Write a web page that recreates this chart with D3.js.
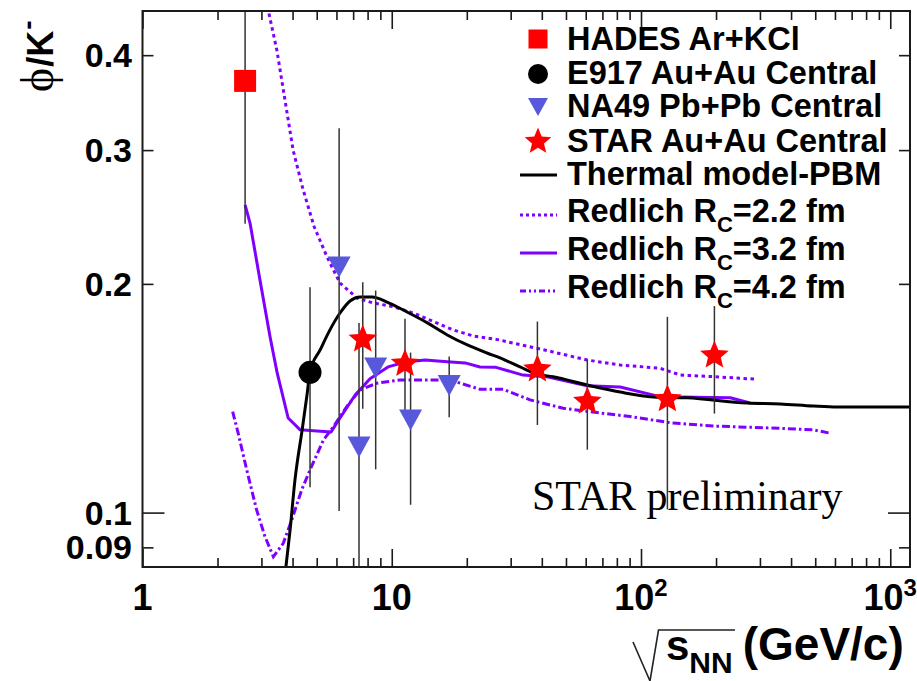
<!DOCTYPE html>
<html>
<head>
<meta charset="utf-8">
<script src="https://cdn.jsdelivr.net/npm/d3@7"></script>
<style>
  body { margin: 0; background: #fff; }
  svg { display: block; }
</style>
</head>
<body>
<svg id="chart" width="917" height="681"></svg>
<script>
// ---- Measurements: phi/K- ratio vs collision energy ----
const hadesX = [2.58];
const hadesY = [0.37];
const hadesErr = [0.13];

const e917X = [4.70];
const e917Y = [0.153];
const e917Err = [0.045];

const na49X = [6.15, 7.39, 8.62, 11.9, 17.0];
const na49Y = [0.2105, 0.122, 0.155, 0.1324, 0.147];
const na49Err = [0.110, 0.0556, 0.041, 0.030, 0.0135];

const starX = [7.65, 11.3, 38.4, 60.9, 127.6, 197];
const starY = [0.169, 0.157, 0.1544, 0.140, 0.141, 0.161];
const starErr = [0.032, 0.023, 0.024, 0.019, 0.040, 0.026];

// ---- Model curves ----
const thermalX = [3.73, 3.91, 4.09, 4.37, 4.57, 4.70, 5.16, 5.65, 6.20, 6.80, 7.46, 8.34, 9.57, 11.5, 13.9, 16.7, 20.1, 24.1, 27.2, 32.7, 38.3, 44.4, 60.8, 82.5, 112, 153, 267, 362, 491, 612, 1200];
const thermalY = [0.0828, 0.0949, 0.1104, 0.1285, 0.1428, 0.1533, 0.1637, 0.1740, 0.1831, 0.1899, 0.1922, 0.1922, 0.1893, 0.1837, 0.1777, 0.1713, 0.1662, 0.1622, 0.1598, 0.1555, 0.1522, 0.1509, 0.1472, 0.1441, 0.1420, 0.1416, 0.1394, 0.1390, 0.1381, 0.1377, 0.1377];

const redlich22X = [3.13, 3.46, 3.73, 4.02, 4.41, 4.88, 5.50, 6.20, 7.26, 8.41, 10.1, 12.2, 14.7, 17.6, 21.2, 27.2, 30.7, 42.0, 60.8, 82.5, 119, 144, 195, 292];
const redlich22Y = [0.473, 0.406, 0.349, 0.300, 0.266, 0.238, 0.217, 0.2005, 0.1916, 0.1888, 0.1867, 0.1831, 0.1784, 0.1740, 0.1708, 0.1687, 0.1671, 0.1634, 0.1588, 0.1564, 0.1549, 0.1517, 0.1510, 0.1498];

const redlich32X = [2.58, 2.70, 2.96, 3.25, 3.47, 3.84, 4.29, 5.01, 5.71, 6.20, 7.13, 8.18, 9.66, 11.3, 13.6, 16.7, 19.7, 22.6, 26.0, 33.6, 42.0, 60.8, 82.5, 119, 228, 274];
const redlich32Y = [0.2541, 0.2405, 0.2024, 0.1703, 0.1527, 0.1332, 0.1285, 0.1281, 0.1277, 0.1332, 0.1428, 0.1500, 0.1555, 0.1578, 0.1588, 0.1580, 0.1574, 0.1555, 0.1554, 0.1517, 0.1509, 0.1469, 0.1463, 0.1421, 0.1416, 0.1394];

const redlich42X = [2.30, 2.42, 2.62, 2.87, 3.10, 3.35, 3.67, 3.97, 4.35, 4.70, 5.32, 5.83, 6.60, 7.46, 8.71, 10.8, 13.9, 17.1, 22.6, 28.0, 35.9, 48.7, 66.6, 90.4, 131, 195, 362, 491, 574];
const redlich42Y = [0.1358, 0.1272, 0.1138, 0.1008, 0.0930, 0.0875, 0.0911, 0.0978, 0.1071, 0.1138, 0.1246, 0.1297, 0.1379, 0.1450, 0.1480, 0.1495, 0.1495, 0.1495, 0.1453, 0.1453, 0.1407, 0.1372, 0.1354, 0.1338, 0.1313, 0.1300, 0.1291, 0.1285, 0.1272];

// ---- Axis ticks and labels ----
const xMajorTicks = [1, 10, 100, 1000];
const xTickBase = ["1", "10", "10", "10"];
const xTickExp = ["", "", "2", "3"];
const yTicks = [0.09, 0.1, 0.2, 0.3, 0.4];
const yTickLabels = ["0.09", "0.1", "0.2", "0.3", "0.4"];
const yMajorTicks = [0.1];

const legendLabels = ["HADES Ar+KCl", "E917 Au+Au Central", "NA49 Pb+Pb Central", "STAR Au+Au Central",
  "Thermal model-PBM", "Redlich R_C=2.2 fm", "Redlich R_C=3.2 fm", "Redlich R_C=4.2 fm"];

// ---- Layout ----
const frame = { left: 142.5, right: 910, top: 11, bottom: 567 };
const RED = "#ff0000", BLUE = "#5858dc", VIOLET = "#7f00ff", INK = "#1a1a1a";
const SANS = "'Liberation Sans', Arial, Helvetica, sans-serif";
const SERIF = "'Liberation Serif', 'Times New Roman', serif";

const x = d3.scaleLog().domain([1, 1200]).range([frame.left, frame.right]);
const y = d3.scaleLog().domain([0.0848, 0.4573]).range([frame.bottom, frame.top]);

const svg = d3.select("#chart");
svg.append("rect").attr("width", 917).attr("height", 681).attr("fill", "#fff");

svg.append("defs").append("clipPath").attr("id", "plotArea")
  .append("rect")
  .attr("x", frame.left).attr("y", frame.top)
  .attr("width", frame.right - frame.left).attr("height", frame.bottom - frame.top);

// minor x ticks at 2..9 per decade inside the domain
const xMinorTicks = [];
[1, 10, 100].forEach(d => { for (let k = 2; k <= 9; k++) if (k * d < 1200) xMinorTicks.push(k * d); });
const yMinorTicks = yTicks.filter(v => !yMajorTicks.includes(v));

function styleAxis(g) {
  g.select(".domain").remove();
  g.selectAll(".tick line").attr("stroke", INK).attr("stroke-width", 1.6);
  g.selectAll(".tick text").remove();
}

const axes = svg.append("g");
axes.append("g").attr("transform", `translate(0,${frame.bottom})`)
  .call(d3.axisBottom(x).tickValues(xMajorTicks).tickSize(-18).tickFormat("")).call(styleAxis);
axes.append("g").attr("transform", `translate(0,${frame.bottom})`)
  .call(d3.axisBottom(x).tickValues(xMinorTicks).tickSize(-9).tickFormat("")).call(styleAxis);
axes.append("g").attr("transform", `translate(0,${frame.top})`)
  .call(d3.axisTop(x).tickValues(xMajorTicks).tickSize(-18).tickFormat("")).call(styleAxis);
axes.append("g").attr("transform", `translate(0,${frame.top})`)
  .call(d3.axisTop(x).tickValues(xMinorTicks).tickSize(-9).tickFormat("")).call(styleAxis);
axes.append("g").attr("transform", `translate(${frame.left},0)`)
  .call(d3.axisLeft(y).tickValues(yMajorTicks).tickSize(-22).tickFormat("")).call(styleAxis);
axes.append("g").attr("transform", `translate(${frame.left},0)`)
  .call(d3.axisLeft(y).tickValues(yMinorTicks).tickSize(-11).tickFormat("")).call(styleAxis);
axes.append("g").attr("transform", `translate(${frame.right},0)`)
  .call(d3.axisRight(y).tickValues(yMajorTicks).tickSize(-22).tickFormat("")).call(styleAxis);
axes.append("g").attr("transform", `translate(${frame.right},0)`)
  .call(d3.axisRight(y).tickValues(yMinorTicks).tickSize(-11).tickFormat("")).call(styleAxis);

// x tick labels (powers of ten)
const xLab = svg.append("g").attr("font-family", SANS).attr("font-weight", "bold")
  .attr("font-size", 36).attr("fill", "#000");
xMajorTicks.forEach((v, i) => {
  const t = xLab.append("text").attr("x", x(v)).attr("y", 610).attr("text-anchor", "middle");
  t.append("tspan").text(xTickBase[i]);
  if (xTickExp[i]) t.append("tspan").attr("font-size", 24).attr("dy", -14).text(xTickExp[i]);
});

// y tick labels
const yLab = svg.append("g").attr("font-family", SANS).attr("font-weight", "bold")
  .attr("font-size", 34).attr("fill", "#000").attr("text-anchor", "end");
yTicks.forEach((v, i) => {
  yLab.append("text").attr("x", 132).attr("y", y(v) + 12).text(yTickLabels[i]);
});

// ---- curves ----
const plot = svg.append("g").attr("clip-path", "url(#plotArea)");
const line = d3.line().x(d => x(d[0])).y(d => y(d[1]));
const smooth = d3.line().x(d => x(d[0])).y(d => y(d[1])).curve(d3.curveMonotoneX);
const zip = (a, b) => a.map((v, i) => [v, b[i]]);

plot.append("path").datum(zip(redlich42X, redlich42Y)).attr("d", line)
  .attr("fill", "none").attr("stroke", VIOLET).attr("stroke-width", 3).attr("stroke-dasharray", "8,3,2.5,3");
plot.append("path").datum(zip(redlich22X, redlich22Y)).attr("d", line)
  .attr("fill", "none").attr("stroke", VIOLET).attr("stroke-width", 3).attr("stroke-dasharray", "3.5,3.5");
plot.append("path").datum(zip(redlich32X, redlich32Y)).attr("d", line)
  .attr("fill", "none").attr("stroke", VIOLET).attr("stroke-width", 3).attr("stroke-linejoin", "round");
plot.append("path").datum(zip(thermalX, thermalY)).attr("d", smooth)
  .attr("fill", "none").attr("stroke", "#000").attr("stroke-width", 3).attr("stroke-linejoin", "round");

// ---- error bars ----
function errorBars(xs, ys, es) {
  plot.append("g").selectAll("line").data(xs).join("line")
    .attr("x1", d => x(d)).attr("x2", d => x(d))
    .attr("y1", (d, i) => y(ys[i] + es[i]))
    .attr("y2", (d, i) => y(Math.max(ys[i] - es[i], 0.05)))
    .attr("stroke", "#333").attr("stroke-width", 1.5);
}
errorBars(hadesX, hadesY, hadesErr);
errorBars(e917X, e917Y, e917Err);
errorBars(na49X, na49Y, na49Err);
errorBars(starX, starY, starErr);

// ---- marker shapes ----
function starPath(cx, cy, R) {
  const r = R * 0.45, pts = [];
  for (let k = 0; k < 10; k++) {
    const a = -Math.PI / 2 + k * Math.PI / 5, rr = k % 2 ? r : R;
    pts.push([cx + rr * Math.cos(a), cy + rr * Math.sin(a)]);
  }
  return "M" + pts.map(p => p.join(",")).join("L") + "Z";
}
function triPath(cx, cy, w, h) {
  return `M${cx - w / 2},${cy - h / 2}L${cx + w / 2},${cy - h / 2}L${cx},${cy + h / 2}Z`;
}

const marks = svg.append("g");
marks.selectAll("rect.hades").data(hadesX).join("rect")
  .attr("x", d => x(d) - 11).attr("y", (d, i) => y(hadesY[i]) - 11)
  .attr("width", 22).attr("height", 22).attr("fill", RED);
marks.selectAll("circle.e917").data(e917X).join("circle")
  .attr("cx", d => x(d)).attr("cy", (d, i) => y(e917Y[i])).attr("r", 11.5).attr("fill", "#000");
marks.selectAll("path.na49").data(na49X).join("path")
  .attr("d", (d, i) => triPath(x(d), y(na49Y[i]), 23, 21)).attr("fill", BLUE);
marks.selectAll("path.star").data(starX).join("path")
  .attr("d", (d, i) => starPath(x(d), y(starY[i]), 15)).attr("fill", RED);

// ---- legend ----
const legendBase = [50, 83.5, 117, 151.5, 185, 222, 260, 298];
const lg = svg.append("g");
const symX = 538, lineX0 = 520, lineX1 = 557, textX = 567;
lg.append("rect").attr("x", symX - 9.5).attr("y", legendBase[0] - 20.5).attr("width", 19).attr("height", 19).attr("fill", RED);
lg.append("circle").attr("cx", symX).attr("cy", legendBase[1] - 9.5).attr("r", 10).attr("fill", "#000");
lg.append("path").attr("d", triPath(symX, legendBase[2] - 10, 20, 18)).attr("fill", BLUE);
lg.append("path").attr("d", starPath(symX, legendBase[3] - 10, 14)).attr("fill", RED);
lg.append("line").attr("x1", lineX0).attr("x2", lineX1).attr("y1", legendBase[4] - 10).attr("y2", legendBase[4] - 10)
  .attr("stroke", "#000").attr("stroke-width", 3);
lg.append("line").attr("x1", lineX0).attr("x2", lineX1).attr("y1", legendBase[5] - 7).attr("y2", legendBase[5] - 7)
  .attr("stroke", VIOLET).attr("stroke-width", 3).attr("stroke-dasharray", "3,3");
lg.append("line").attr("x1", lineX0).attr("x2", lineX1).attr("y1", legendBase[6] - 7).attr("y2", legendBase[6] - 7)
  .attr("stroke", VIOLET).attr("stroke-width", 3);
lg.append("line").attr("x1", lineX0).attr("x2", lineX1).attr("y1", legendBase[7] - 7).attr("y2", legendBase[7] - 7)
  .attr("stroke", VIOLET).attr("stroke-width", 3).attr("stroke-dasharray", "6,3,2,3,2,3");

const lgText = lg.append("g").attr("font-family", SANS).attr("font-weight", "bold")
  .attr("font-size", 32.5).attr("fill", "#000");
legendLabels.forEach((lab, i) => {
  const t = lgText.append("text").attr("x", textX).attr("y", legendBase[i]);
  const parts = lab.split("_");
  if (parts.length === 1) { t.text(lab); return; }
  t.append("tspan").text(parts[0]);
  t.append("tspan").attr("font-size", 22).attr("dy", 10).text(parts[1][0]);
  t.append("tspan").attr("dy", -10).text(parts[1].slice(1));
});

// ---- annotation ----
svg.append("text").attr("x", 532).attr("y", 510)
  .attr("font-family", SERIF).attr("font-size", 42)
  .attr("fill", "#000").text("STAR preliminary");

// ---- axis titles ----
const xt = svg.append("g");
xt.append("path").attr("d", "M633,642L650,681L658.5,630L735,630")
  .attr("fill", "none").attr("stroke", "#222").attr("stroke-width", 1.6);
const xTitle = xt.append("text").attr("x", 666).attr("y", 660)
  .attr("font-family", SANS).attr("font-weight", "bold").attr("font-size", 42).attr("fill", "#000");
xTitle.append("tspan").text("s");
xTitle.append("tspan").attr("font-size", 30).attr("dy", 13).text("NN");
xTitle.append("tspan").attr("dy", -13).attr("dx", 10).attr("font-size", 46).text("(GeV/c)");

// vertical title, reading upward from y = 92
const yTitle = svg.append("text").attr("transform", "translate(53,92) rotate(-90)")
  .attr("text-anchor", "start").attr("font-family", SANS).attr("fill", "#000");
yTitle.append("tspan").attr("font-family", SERIF).attr("font-size", 46).text("\u03D5");
yTitle.append("tspan").attr("font-weight", "bold").attr("font-size", 36).attr("dx", 1).text("/K");
yTitle.append("tspan").attr("font-weight", "bold").attr("font-size", 28).attr("dy", -16).attr("dx", 1).text("-");

// ---- frame ----
svg.append("rect")
  .attr("x", frame.left).attr("y", frame.top)
  .attr("width", frame.right - frame.left).attr("height", frame.bottom - frame.top)
  .attr("fill", "none").attr("stroke", INK).attr("stroke-width", 2);
</script>
</body>
</html>
